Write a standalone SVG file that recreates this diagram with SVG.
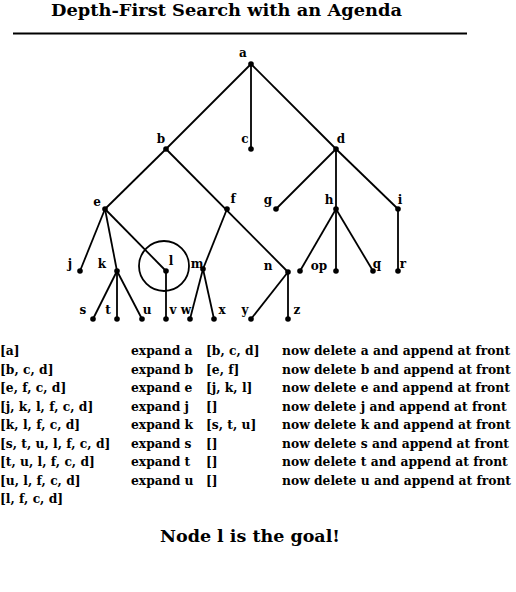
<svg xmlns="http://www.w3.org/2000/svg" width="516" height="592" viewBox="0 0 516 592">
<style>
text{font-family:"DejaVu Serif","Liberation Serif",serif;font-weight:bold;fill:#000}
.lbl{font-size:12px;text-anchor:middle}
.tb{font-size:12.3px}
.title{font-size:17px}
.goal{font-size:16.5px}
.e{stroke:#000;stroke-width:1.8;fill:none}
.dot{fill:#000}
</style>
<rect width="516" height="592" fill="#fff"/>
<text class="title" x="51" y="16" textLength="351" lengthAdjust="spacingAndGlyphs">Depth-First Search with an Agenda</text>
<line x1="13" y1="33.5" x2="467" y2="33.5" stroke="#000" stroke-width="2"/>
<g id="connectors">
<line class="e" x1="251" y1="64" x2="166" y2="149"/>
<line class="e" x1="251" y1="64" x2="251" y2="149"/>
<line class="e" x1="251" y1="64" x2="336" y2="149"/>
<line class="e" x1="166" y1="149" x2="105" y2="209"/>
<line class="e" x1="166" y1="149" x2="288" y2="272"/>
<line class="e" x1="336" y1="149" x2="276" y2="209"/>
<line class="e" x1="336" y1="149" x2="336" y2="271"/>
<line class="e" x1="336" y1="149" x2="398" y2="209"/>
<line class="e" x1="105" y1="209" x2="80" y2="271"/>
<line class="e" x1="105" y1="209" x2="117" y2="271"/>
<line class="e" x1="105" y1="209" x2="166" y2="271"/>
<line class="e" x1="227" y1="209" x2="203" y2="269"/>
<line class="e" x1="336" y1="209" x2="300" y2="271"/>
<line class="e" x1="336" y1="209" x2="373" y2="271"/>
<line class="e" x1="398" y1="209" x2="398" y2="271"/>
<line class="e" x1="117" y1="271" x2="93" y2="319"/>
<line class="e" x1="117" y1="271" x2="117" y2="319"/>
<line class="e" x1="117" y1="271" x2="142" y2="319"/>
<line class="e" x1="166" y1="271" x2="166" y2="319"/>
<line class="e" x1="203" y1="269" x2="190" y2="319"/>
<line class="e" x1="203" y1="269" x2="214" y2="319"/>
<line class="e" x1="288" y1="272" x2="251" y2="319"/>
<line class="e" x1="288" y1="272" x2="288" y2="319"/>
</g>
<circle cx="164" cy="266" r="25" class="e"/>
<g id="a"><circle class="dot" cx="251" cy="64" r="2.8"/><text class="lbl" x="243" y="57">a</text></g>
<g id="b"><circle class="dot" cx="166" cy="149" r="2.8"/><text class="lbl" x="161" y="143">b</text></g>
<g id="c"><circle class="dot" cx="251" cy="149" r="2.8"/><text class="lbl" x="245" y="143">c</text></g>
<g id="d"><circle class="dot" cx="336" cy="149" r="2.8"/><text class="lbl" x="341" y="143">d</text></g>
<g id="e"><circle class="dot" cx="105" cy="209" r="2.8"/><text class="lbl" x="97" y="206">e</text></g>
<g id="f"><circle class="dot" cx="227" cy="209" r="2.8"/><text class="lbl" x="233" y="203">f</text></g>
<g id="g"><circle class="dot" cx="276" cy="209" r="2.8"/><text class="lbl" x="268" y="204">g</text></g>
<g id="h"><circle class="dot" cx="336" cy="209" r="2.8"/><text class="lbl" x="329" y="204">h</text></g>
<g id="i"><circle class="dot" cx="398" cy="209" r="2.8"/><text class="lbl" x="400" y="204">i</text></g>
<g id="j"><circle class="dot" cx="80" cy="271" r="2.8"/><text class="lbl" x="70" y="268">j</text></g>
<g id="k"><circle class="dot" cx="117" cy="271" r="2.8"/><text class="lbl" x="102" y="268">k</text></g>
<g id="l"><circle class="dot" cx="166" cy="271" r="2.8"/><text class="lbl" x="171" y="265">l</text></g>
<g id="m"><circle class="dot" cx="203" cy="269" r="2.8"/><text class="lbl" x="197" y="268">m</text></g>
<g id="n"><circle class="dot" cx="288" cy="272" r="2.8"/><text class="lbl" x="268" y="270">n</text></g>
<g id="o"><circle class="dot" cx="300" cy="271" r="2.8"/></g>
<g id="p"><circle class="dot" cx="336" cy="271" r="2.8"/><text class="lbl" x="319" y="270">op</text></g>
<g id="q"><circle class="dot" cx="373" cy="271" r="2.8"/><text class="lbl" x="377" y="268">q</text></g>
<g id="r"><circle class="dot" cx="398" cy="271" r="2.8"/><text class="lbl" x="403" y="268">r</text></g>
<g id="s"><circle class="dot" cx="93" cy="319" r="2.8"/><text class="lbl" x="83" y="314">s</text></g>
<g id="t"><circle class="dot" cx="117" cy="319" r="2.8"/><text class="lbl" x="108" y="314">t</text></g>
<g id="u"><circle class="dot" cx="142" cy="319" r="2.8"/><text class="lbl" x="147" y="314">u</text></g>
<g id="v"><circle class="dot" cx="166" cy="319" r="2.8"/><text class="lbl" x="173" y="314">v</text></g>
<g id="w"><circle class="dot" cx="190" cy="319" r="2.8"/><text class="lbl" x="186" y="314">w</text></g>
<g id="x"><circle class="dot" cx="214" cy="319" r="2.8"/><text class="lbl" x="222" y="314">x</text></g>
<g id="y"><circle class="dot" cx="251" cy="319" r="2.8"/><text class="lbl" x="245" y="314">y</text></g>
<g id="z"><circle class="dot" cx="288" cy="319" r="2.8"/><text class="lbl" x="297" y="314">z</text></g>
<g id="table" class="tb">
<text class="tb" x="0" y="355">[a]</text>
<text class="tb" x="0" y="374">[b, c, d]</text>
<text class="tb" x="0" y="392">[e, f, c, d]</text>
<text class="tb" x="0" y="411">[j, k, l, f, c, d]</text>
<text class="tb" x="0" y="429">[k, l, f, c, d]</text>
<text class="tb" x="0" y="448">[s, t, u, l, f, c, d]</text>
<text class="tb" x="0" y="466">[t, u, l, f, c, d]</text>
<text class="tb" x="0" y="485">[u, l, f, c, d]</text>
<text class="tb" x="0" y="503">[l, f, c, d]</text>
<text class="tb" x="131" y="355">expand a</text>
<text class="tb" x="131" y="374">expand b</text>
<text class="tb" x="131" y="392">expand e</text>
<text class="tb" x="131" y="411">expand j</text>
<text class="tb" x="131" y="429">expand k</text>
<text class="tb" x="131" y="448">expand s</text>
<text class="tb" x="131" y="466">expand t</text>
<text class="tb" x="131" y="485">expand u</text>
<text class="tb" x="206" y="355">[b, c, d]</text>
<text class="tb" x="206" y="374">[e, f]</text>
<text class="tb" x="206" y="392">[j, k, l]</text>
<text class="tb" x="206" y="411">[]</text>
<text class="tb" x="206" y="429">[s, t, u]</text>
<text class="tb" x="206" y="448">[]</text>
<text class="tb" x="206" y="466">[]</text>
<text class="tb" x="206" y="485">[]</text>
<text class="tb" x="282" y="355">now delete a and append at front</text>
<text class="tb" x="282" y="374">now delete b and append at front</text>
<text class="tb" x="282" y="392">now delete e and append at front</text>
<text class="tb" x="282" y="411">now delete j and append at front</text>
<text class="tb" x="282" y="429">now delete k and append at front</text>
<text class="tb" x="282" y="448">now delete s and append at front</text>
<text class="tb" x="282" y="466">now delete t and append at front</text>
<text class="tb" x="282" y="485">now delete u and append at front</text>
</g>
<text class="goal" x="160" y="542" textLength="180" lengthAdjust="spacingAndGlyphs">Node l is the goal!</text>
</svg>
